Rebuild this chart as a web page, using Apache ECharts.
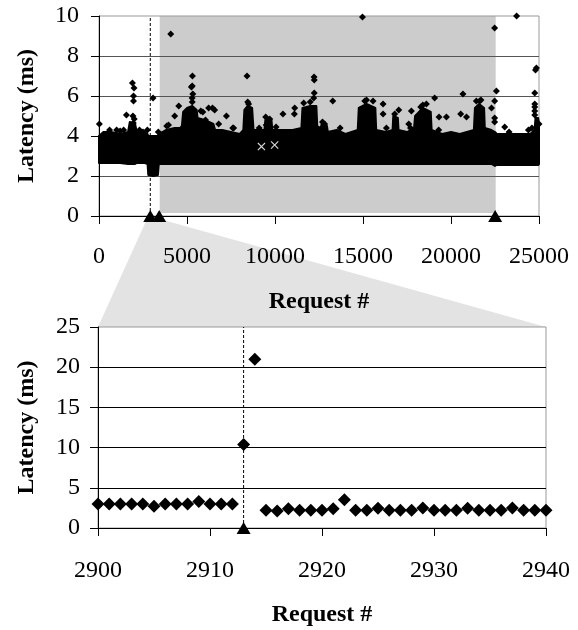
<!DOCTYPE html>
<html>
<head>
<meta charset="utf-8">
<script src="https://cdn.jsdelivr.net/npm/echarts@6/dist/echarts.min.js"></script>
<style>
html,body{margin:0;padding:0;background:#fff}
#box{width:578px;height:630px}
</style>
</head>
<body>
<div id="box"></div>
<script>
// ---- top panel: whole run ----
// dense band of ~25000 samples, drawn as its envelope (upper / lower edge)
var bandX = [0, 250, 700, 1200, 1650, 1750, 2050, 2150, 2600, 2760,
  2800, 3100, 3350, 3400, 3800, 4300, 4700, 4780, 5000, 5300,
  5550, 5600, 6000, 6500, 6600, 7000, 7500, 8000, 8200, 8260,
  8450, 8700, 8780, 9400, 9450, 9800, 9850, 10500, 11000, 11500,
  11560, 12000, 12350, 12400, 12600, 12650, 12950, 13000, 13500, 14000,
  14700, 14760, 15200, 15700, 15750, 16300, 16680, 16720, 16980, 17020,
  17500, 17900, 17960, 18400, 18850, 18900, 19500, 20000, 20500, 21300,
  21360, 21600, 21880, 21920, 22300, 22500, 22600, 23000, 23500, 24000,
  24500, 24750, 24800, 24950, 25000];
var bandHigh = [4.0, 4.2, 4.2, 4.1, 4.2, 4.7, 4.6, 4.2, 4.2, 4.1,
  4.0, 4.0, 4.0, 4.1, 4.3, 4.4, 4.4, 5.2, 5.4, 5.5,
  5.3, 4.9, 4.8, 4.6, 4.3, 4.3, 4.2, 4.1, 4.3, 5.3,
  5.5, 5.4, 4.3, 4.3, 4.8, 4.8, 4.3, 4.3, 4.3, 4.4,
  5.4, 5.5, 5.5, 4.5, 4.4, 4.6, 4.5, 4.2, 4.3, 4.1,
  4.3, 5.4, 5.6, 5.4, 4.3, 4.2, 4.3, 5.0, 4.9, 4.3,
  4.2, 4.4, 5.0, 5.4, 5.2, 4.3, 4.1, 4.2, 4.1, 4.3,
  5.4, 5.6, 5.4, 4.4, 4.3, 4.2, 4.1, 4.1, 4.1, 4.1,
  4.1, 4.3, 4.9, 4.9, 4.6];
var bandLow = [2.65, 2.65, 2.65, 2.65, 2.6, 2.6, 2.6, 2.65, 2.65, 2.6,
  2.05, 2.0, 2.05, 2.6, 2.6, 2.6, 2.6, 2.6, 2.6, 2.6,
  2.6, 2.6, 2.6, 2.6, 2.6, 2.6, 2.6, 2.6, 2.6, 2.6,
  2.6, 2.6, 2.6, 2.6, 2.6, 2.6, 2.6, 2.6, 2.6, 2.6,
  2.6, 2.6, 2.6, 2.6, 2.6, 2.6, 2.6, 2.6, 2.6, 2.6,
  2.6, 2.6, 2.6, 2.6, 2.6, 2.6, 2.6, 2.6, 2.6, 2.6,
  2.6, 2.6, 2.6, 2.6, 2.6, 2.6, 2.6, 2.6, 2.6, 2.6,
  2.6, 2.6, 2.6, 2.6, 2.6, 2.5, 2.55, 2.55, 2.55, 2.55,
  2.55, 2.55, 2.55, 2.55, 2.6];

// samples standing clear of the band  [request, latency]
var outliers = [
  [20, 4.6], [600, 4.3], [1000, 4.3], [1200, 4.25], [1400, 4.3], [1560, 5.05], [1900, 6.65], [1990, 6.4],
  [1960, 6.0], [1960, 5.75], [1930, 5.0], [2000, 4.85], [1950, 4.65], [2300, 4.3], [2500, 4.2], [2750, 4.3],
  [3070, 5.9], [3370, 4.2], [3850, 4.5],
  [3950, 4.55], [4075, 9.1], [4300, 5.0], [4530, 5.5], [4720, 4.4], [4900, 4.9], [5250, 6.45], [5300, 6.5],
  [5310, 7.0], [5330, 6.1], [5290, 5.9], [5300, 5.7], [5780, 5.25], [5900, 5.2], [6050, 4.8], [6230, 5.4],
  [6450, 5.4], [6570, 5.3], [6800, 4.6], [7240, 5.0], [7600, 4.4], [7650, 4.4], [8410, 7.0], [8450, 5.7],
  [8500, 5.6], [9100, 4.4], [9470, 4.95], [9700, 4.85], [9500, 4.55], [10060, 4.45], [10450, 5.1], [11120, 5.4],
  [11100, 5.1], [11630, 5.65], [12000, 5.7], [12220, 6.95], [12230, 6.8], [12230, 6.15], [12200, 5.9], [12700, 4.7],
  [12820, 4.6], [12830, 4.4], [13280, 5.75], [13700, 4.4], [14970, 9.95], [15100, 5.75], [15200, 5.8], [15570, 5.75],
  [15100, 5.35], [15560, 5.3], [16140, 5.6], [16140, 5.1], [16330, 4.4], [16800, 5.1], [17030, 5.3], [17750, 5.25],
  [17700, 4.4], [17600, 4.6], [18280, 5.45], [18400, 5.55], [18600, 5.6], [19070, 5.9], [19300, 4.3], [19320, 4.95],
  [19740, 4.95], [20680, 6.1], [20550, 5.1], [20880, 4.95], [21440, 5.75], [21630, 5.75], [21700, 5.8], [21650, 5.4],
  [22300, 5.4], [22480, 5.75], [22480, 4.9], [22480, 4.7], [22580, 6.25], [22480, 9.4],
  [23050, 4.45], [23300, 4.2], [23730, 10.0], [24400, 4.3], [24600, 4.4], [24760, 6.15], [24760, 5.6], [24760, 5.45],
  [24760, 5.25], [24760, 5.05], [24800, 7.3], [24850, 7.4], [24900, 4.55], [25000, 4.6]
];
var grayMarks = [[9230, 3.47], [9980, 3.55]];

var shadeRange = [3450, 22540];       // grey period
var eventReq = 2913;                  // dashed marker
var eventMarks = [2913, 3420, 22510]; // triangles on the x axis
var funnelFrom = [2700, 3650];        // where the zoom wedge leaves the top plot

// ---- bottom panel: requests 2900..2940 ----
var zoomStart = 2900;
var zoomLatency = [3.0, 3.0, 3.0, 3.0, 3.0, 2.7, 3.0, 3.0, 3.0, 3.3, 3.0, 3.0, 3.0, 10.4, 21.0,
  2.2, 2.1, 2.4, 2.2, 2.2, 2.2, 2.4, 3.5, 2.2, 2.2, 2.45, 2.2, 2.2, 2.2, 2.5, 2.2, 2.2, 2.2, 2.45,
  2.2, 2.2, 2.2, 2.5, 2.2, 2.2, 2.2];

var FONT = 'Liberation Serif';
var zoomPts = zoomLatency.map(function (v, i) { return [zoomStart + i, v]; });

var myChart = echarts.init(document.getElementById('box'));

function plain(v) { return String(v); }

function xAx(idx, min, max, step, margin, gap) {
  return {
    type: 'value', gridIndex: idx, min: min, max: max, interval: step, z: 1,
    name: 'Request #', nameLocation: 'middle', nameGap: gap,
    nameTextStyle: { fontFamily: FONT, fontSize: 24, fontWeight: 'bold', color: '#000' },
    axisLine: { lineStyle: { color: '#000', width: 1 } },
    axisTick: { inside: false, length: 8, lineStyle: { color: '#000' } },
    axisLabel: { fontFamily: FONT, fontSize: 24, color: '#000', margin: margin, formatter: plain },
    splitLine: { show: false }
  };
}
function yAx(idx, max, step, margin, gap, gridColor) {
  return {
    type: 'value', gridIndex: idx, min: 0, max: max, interval: step, z: 1,
    name: 'Latency (ms)', nameLocation: 'middle', nameGap: gap,
    nameTextStyle: { fontFamily: FONT, fontSize: 24, fontWeight: 'bold', color: '#000' },
    axisLine: { show: true, lineStyle: { color: '#000', width: 1 } },
    axisTick: { show: true, inside: false, length: 8, lineStyle: { color: '#000' } },
    axisLabel: { fontFamily: FONT, fontSize: 24, color: '#000', margin: margin, formatter: plain },
    splitLine: { show: true, showMaxLine: false, lineStyle: { color: gridColor, width: 1 } }
  };
}

var option = {
  animation: false,
  backgroundColor: '#fff',
  grid: [
    { left: 99, top: 16, width: 440, height: 200, show: true, borderColor: '#999', borderWidth: 1, backgroundColor: 'transparent' },
    { left: 98, top: 327, width: 448, height: 201, show: true, borderColor: '#999', borderWidth: 1, backgroundColor: 'transparent' }
  ],
  xAxis: [ xAx(0, 0, 25000, 5000, 29, 74), xAx(1, 2900, 2940, 10, 31, 75) ],
  yAxis: [ yAx(0, 10, 2, 20, 60, '#555'), yAx(1, 25, 5, 18, 59, '#000') ],
  series: [
    { // grey period
      type: 'custom', xAxisIndex: 0, yAxisIndex: 0, z: -1, silent: true,
      data: [[shadeRange[0], shadeRange[1]]],
      renderItem: function (params, api) {
        var a = api.coord([api.value(0), 10]);
        var b = api.coord([api.value(1), 0.15]);
        return { type: 'rect', shape: { x: a[0], y: a[1], width: b[0] - a[0], height: b[1] - a[1] }, style: { fill: '#cccccc' } };
      }
    },
    { // dense band
      type: 'custom', xAxisIndex: 0, yAxisIndex: 0, z: 2, silent: true,
      data: [[0]],
      renderItem: function (params, api) {
        var pts = [], i;
        for (i = 0; i < bandX.length; i++) pts.push(api.coord([bandX[i], bandHigh[i]]));
        for (i = bandX.length - 1; i >= 0; i--) pts.push(api.coord([bandX[i], bandLow[i]]));
        return { type: 'polygon', shape: { points: pts }, style: { fill: '#000', stroke: '#000', lineWidth: 2, lineJoin: 'round' } };
      }
    },
    {
      type: 'scatter', xAxisIndex: 0, yAxisIndex: 0, z: 3, clip: false,
      symbol: 'diamond', symbolSize: 7, itemStyle: { color: '#000', opacity: 1 }, data: outliers
    },
    {
      type: 'scatter', xAxisIndex: 0, yAxisIndex: 0, z: 4,
      symbol: 'path://M0,1L1,0L5,4L9,0L10,1L6,5L10,9L9,10L5,6L1,10L0,9L4,5Z',
      symbolSize: 8, itemStyle: { color: '#d8d8d8', opacity: 1 }, data: grayMarks
    },
    {
      type: 'line', xAxisIndex: 0, yAxisIndex: 0, z: 4, symbol: 'none',
      lineStyle: { color: '#000', width: 1, type: [3, 2] },
      data: [[eventReq, 0], [eventReq, 10]]
    },
    {
      type: 'scatter', xAxisIndex: 0, yAxisIndex: 0, z: 5, clip: false,
      symbol: 'triangle', symbolSize: [14, 12], itemStyle: { color: '#000', opacity: 1 },
      data: eventMarks.map(function (x) { return [x, 0]; })
    },
    // bottom
    {
      type: 'line', xAxisIndex: 1, yAxisIndex: 1, z: 2, symbol: 'none',
      lineStyle: { color: '#000', width: 1, type: [3, 2] },
      data: [[eventReq, 0], [eventReq, 25]]
    },
    {
      type: 'scatter', xAxisIndex: 1, yAxisIndex: 1, z: 3, clip: false,
      symbol: 'diamond', symbolSize: 13, itemStyle: { color: '#000', opacity: 1 }, data: zoomPts
    },
    {
      type: 'scatter', xAxisIndex: 1, yAxisIndex: 1, z: 4, clip: false,
      symbol: 'triangle', symbolSize: [14, 12], itemStyle: { color: '#000', opacity: 1 },
      data: [[eventReq, 0]]
    }
  ]
};
myChart.setOption(option);

// zoom wedge between the two panels
var tl = myChart.convertToPixel({ gridIndex: 0 }, [funnelFrom[0], 0]);
var tr = myChart.convertToPixel({ gridIndex: 0 }, [funnelFrom[1], 0]);
var br = myChart.convertToPixel({ gridIndex: 1 }, [2940, 25]);
var bl = myChart.convertToPixel({ gridIndex: 1 }, [2900, 25]);
myChart.setOption({
  graphic: [{
    type: 'polygon', z: -10, silent: true,
    shape: { points: [[tl[0], tl[1] + 4], [tr[0], tr[1] + 4], br, bl] },
    style: { fill: '#e3e3e3' }
  }]
});
</script>
</body>
</html>
